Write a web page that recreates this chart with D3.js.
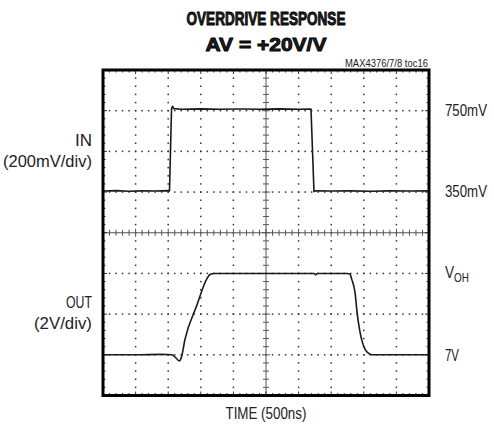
<!DOCTYPE html>
<html>
<head>
<meta charset="utf-8">
<script src="https://cdn.jsdelivr.net/npm/d3@7"></script>
<style>
  html, body { margin: 0; padding: 0; background: #fff; }
  svg { display: block; }
  text { font-family: "Liberation Sans", Arial, Helvetica, sans-serif; fill: #222; }
</style>
</head>
<body>
<svg id="chart" width="494" height="431"></svg>
<script>
// ---- data (time in ns, IN in mV, OUT in V) ----
const inTime  = [0, 200, 400, 600, 800, 1000, 1020, 1051, 1066, 1085, 1200, 1500, 1800, 2100, 2400, 2700, 3000, 3190, 3236, 3260, 3500, 3800, 4100, 4400, 4700, 5000];
const inVolts = [355, 357, 354, 356, 355, 357, 356, 758, 772, 760, 757, 759, 757, 758, 757, 759, 757, 758, 352, 356, 355, 356, 354, 356, 355, 356];

const outTime  = [0, 500, 900, 1054, 1110, 1170, 1200, 1258, 1437, 1590, 1640, 1702, 2200, 2800, 3240, 3262, 3284, 3747, 3790, 3814, 3865, 3900, 3942, 3980, 4018, 4070, 4121, 4500, 5000];
const outVolts = [7.0, 7.0, 7.02, 7.0, 6.88, 6.7, 6.85, 7.77, 9.41, 10.72, 10.95, 11.0, 11.0, 11.0, 11.0, 10.93, 11.0, 11.0, 10.95, 10.72, 10.07, 9.0, 8.12, 7.6, 7.28, 7.08, 7.0, 7.0, 7.0];

const xDivs = 10, yDivs = 8, minorPerDiv = 5;
const timeDomain = [0, 5000];
const inDomain = [-650, 950];
const outDomain = [5, 21];

const rightLabels = ["750mV", "350mV", "V", "7V"];
const rightLevelsIn = [758, 355];
const rightLevelsOut = [11, 7];
const leftLabels = ["IN", "(200mV/div)", "OUT", "(2V/div)"];

// ---- layout ----
const L = 103, R = 429, T = 70, B = 395.5;
const svg = d3.select("#chart");

const x = d3.scaleLinear().domain(timeDomain).range([L, R]);
const yIn = d3.scaleLinear().domain(inDomain).range([B, T]);
const yOut = d3.scaleLinear().domain(outDomain).range([B, T]);
const gx = d3.scaleLinear().domain([0, xDivs]).range([L, R]);
const gy = d3.scaleLinear().domain([0, yDivs]).range([T, B]);

const g = svg.append("g");
const dotColor = "#333";

// dotted grid lines
for (let i = 1; i < xDivs; i++) {
  if (i === xDivs / 2) continue;
  for (let j = 1; j < yDivs * minorPerDiv; j++) {
    g.append("rect").attr("x", gx(i) - 0.75).attr("y", gy(j / minorPerDiv) - 0.75)
      .attr("width", 1.5).attr("height", 1.5).attr("fill", dotColor);
  }
}
for (let j = 1; j < yDivs; j++) {
  if (j === yDivs / 2) continue;
  for (let i = 1; i < xDivs * minorPerDiv; i++) {
    g.append("rect").attr("x", gx(i / minorPerDiv) - 0.75).attr("y", gy(j) - 0.75)
      .attr("width", 1.5).attr("height", 1.5).attr("fill", dotColor);
  }
}

// center cross lines with minor ticks
const cx = gx(xDivs / 2), cy = gy(yDivs / 2);
g.append("line").attr("x1", cx).attr("x2", cx).attr("y1", T).attr("y2", B)
  .attr("stroke", "#555").attr("stroke-width", 1);
g.append("line").attr("x1", L).attr("x2", R).attr("y1", cy).attr("y2", cy)
  .attr("stroke", "#555").attr("stroke-width", 1);
for (let j = 1; j < yDivs * minorPerDiv; j++) {
  const y = gy(j / minorPerDiv);
  const len = (j % minorPerDiv === 0) ? 4 : 3;
  g.append("line").attr("x1", cx - len).attr("x2", cx + len).attr("y1", y).attr("y2", y)
    .attr("stroke", "#555").attr("stroke-width", 1);
}
for (let i = 1; i < xDivs * minorPerDiv; i++) {
  const xx = gx(i / minorPerDiv);
  const len = (i % minorPerDiv === 0) ? 4 : 3;
  g.append("line").attr("x1", xx).attr("x2", xx).attr("y1", cy - len).attr("y2", cy + len)
    .attr("stroke", "#555").attr("stroke-width", 1);
}

// border minor ticks
for (let i = 1; i < xDivs * minorPerDiv; i++) {
  const xx = gx(i / minorPerDiv);
  const len = (i % minorPerDiv === 0) ? 4 : 2.5;
  g.append("line").attr("x1", xx).attr("x2", xx).attr("y1", T).attr("y2", T + len).attr("stroke", "#333");
  g.append("line").attr("x1", xx).attr("x2", xx).attr("y1", B).attr("y2", B - len).attr("stroke", "#333");
}
for (let j = 1; j < yDivs * minorPerDiv; j++) {
  const y = gy(j / minorPerDiv);
  const len = (j % minorPerDiv === 0) ? 4 : 2.5;
  g.append("line").attr("x1", L).attr("x2", L + len).attr("y1", y).attr("y2", y).attr("stroke", "#333");
  g.append("line").attr("x1", R).attr("x2", R - len).attr("y1", y).attr("y2", y).attr("stroke", "#333");
}

// traces
const lineIn = d3.line().x((d, i) => x(inTime[i])).y((d, i) => yIn(inVolts[i]));
const lineOut = d3.line().x((d, i) => x(outTime[i])).y((d, i) => yOut(outVolts[i])).curve(d3.curveMonotoneX);
g.append("path").attr("d", lineIn(inTime)).attr("fill", "none")
  .attr("stroke", "#1a1a1a").attr("stroke-width", 1.6).attr("stroke-linejoin", "round");
g.append("path").attr("d", lineOut(outTime)).attr("fill", "none")
  .attr("stroke", "#1a1a1a").attr("stroke-width", 1.6).attr("stroke-linejoin", "round");

// frame
g.append("rect").attr("x", L).attr("y", T).attr("width", R - L).attr("height", B - T)
  .attr("fill", "none").attr("stroke", "#000").attr("stroke-width", 3);

// helper: horizontally condensed text (measured then scaled in x only)
function label(xp, yp, size, anchor, targetW, build) {
  const grp = svg.append("g");
  const t = grp.append("text").attr("x", 0).attr("y", 0).attr("font-size", size);
  build(t);
  const w = t.node().getComputedTextLength();
  const s = targetW ? targetW / w : 1;
  const sw = w * s;
  const x0 = anchor === "middle" ? xp - sw / 2 : anchor === "end" ? xp - sw : xp;
  grp.attr("transform", `translate(${x0},${yp}) scale(${s},1)`);
  return t;
}

// titles
const heavy = t => t.attr("font-weight", "bold").attr("fill", "#000").attr("stroke", "#000").attr("stroke-width", 0.9);
label(266, 25, 19, "middle", 159, t => { heavy(t); t.text("OVERDRIVE RESPONSE"); });
label(266, 51, 19, "middle", 121, t => { heavy(t); t.text("AV = +20V/V"); });
label(428, 67, 11, "end", 83, t => t.attr("fill", "#444").text("MAX4376/7/8 toc16"));

// right labels
const fs = 16.5;
const rx = 445;
const rY = [yIn(rightLevelsIn[0]) + 7, yIn(rightLevelsIn[1]) + 6, yOut(rightLevelsOut[0]) + 5, yOut(rightLevelsOut[1]) + 6];
const rLen = [42, 42, 24, 14];
rightLabels.forEach((txt, i) => {
  label(rx, rY[i], fs, "start", rLen[i], t => {
    if (txt === "V") {
      t.append("tspan").text("V");
      t.append("tspan").attr("font-size", 12).attr("dy", 4).text("OH");
    } else t.text(txt);
  });
});

// left labels
const lx = 92;
const lY = [146, 167, 308, 329];
const lLen = [17, 89, 26, 58];
leftLabels.forEach((txt, i) => label(lx, lY[i], fs, "end", lLen[i], t => t.text(txt)));

// x axis title
label(266, 419, fs, "middle", 81, t => t.text("TIME (500ns)"));
</script>
</body>
</html>
